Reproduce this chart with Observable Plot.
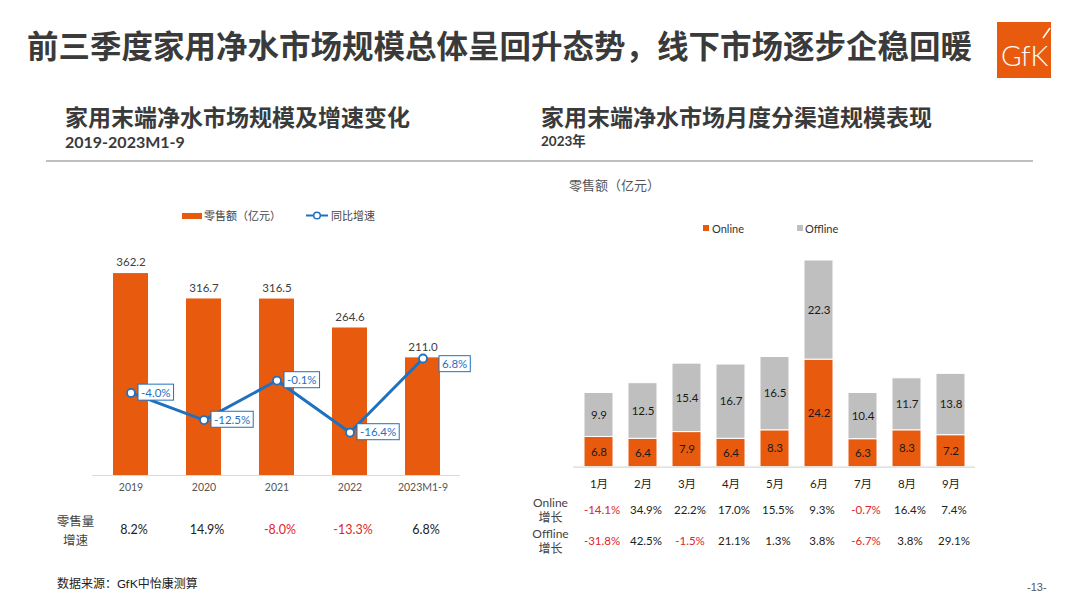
<!DOCTYPE html>
<html><head><meta charset="utf-8">
<script src="https://cdn.jsdelivr.net/npm/d3@7"></script>
<script src="https://cdn.jsdelivr.net/npm/@observablehq/plot@0.6"></script>
<style>
body{margin:0;width:1080px;height:607px;position:relative;background:#fff;font-family:Lato,"Noto Sans CJK SC",sans-serif;overflow:hidden}
.abs{position:absolute;white-space:nowrap;line-height:1}
</style></head><body>
<div class="abs" style="left:27px;top:29px;font-size:31.5px;font-weight:700;color:#3a3a3a;font-family:'Noto Sans CJK SC',sans-serif">前三季度家用净水市场规模总体呈回升态势，线下市场逐步企稳回暖</div>
<div class="abs" style="left:997px;top:22px;width:54px;height:56px;background:#e85b0e">
  <span class="abs" style="left:4px;top:19px;font-size:28px;font-weight:300;color:#fff;font-family:Lato">GfK</span>
  <svg class="abs" style="left:0;top:0" width="54" height="56"><line x1="46" y1="16" x2="53" y2="6" stroke="#fff" stroke-width="1.5"/></svg>
</div>
<div class="abs" style="left:65px;top:105px;font-size:23px;font-weight:700;color:#3a3a3a;font-family:'Noto Sans CJK SC',sans-serif">家用末端净水市场规模及增速变化</div>
<div class="abs" style="left:65px;top:134px;font-size:16px;font-weight:700;color:#3a3a3a">2019-2023M1-9</div>
<div class="abs" style="left:541px;top:105px;font-size:23px;font-weight:700;color:#3a3a3a;font-family:'Noto Sans CJK SC',sans-serif">家用末端净水市场月度分渠道规模表现</div>
<div class="abs" style="left:541px;top:134.5px;font-size:13.5px;font-weight:700;color:#3a3a3a">2023年</div>
<div class="abs" style="left:46px;top:160px;width:987px;height:1.5px;background:#bfbfbf"></div>

<div class="abs" style="left:182px;top:212.5px;width:20px;height:6px;background:#e85b0e"></div>
<div class="abs" style="left:204px;top:210px;font-size:11px;color:#444">零售额（亿元）</div>
<svg class="abs" style="left:306px;top:210px" width="24" height="11"><line x1="0" y1="5.5" x2="22" y2="5.5" stroke="#1f71bf" stroke-width="2"/><circle cx="11" cy="5.5" r="3.3" fill="#fff" stroke="#1f71bf" stroke-width="1.5"/></svg>
<div class="abs" style="left:331px;top:210px;font-size:11px;color:#444">同比增速</div>

<div class="abs" style="left:569px;top:179px;font-size:13px;color:#555">零售额（亿元）</div>
<div class="abs" style="left:703px;top:225px;width:6px;height:6px;background:#e85b0e"></div>
<div class="abs" style="left:712px;top:222.5px;font-size:11px;color:#333">Online</div>
<div class="abs" style="left:797px;top:225px;width:6px;height:6px;background:#bfbfbf"></div>
<div class="abs" style="left:805px;top:222.5px;font-size:11px;color:#333">Offline</div>

<div class="abs" style="left:57px;top:578px;font-size:12px;color:#222">数据来源：GfK中怡康测算</div>
<div class="abs" style="left:1027px;top:582px;font-size:11px;color:#555;font-family:'Liberation Sans',Arial">-13-</div>

<script>
// ---- data ----
const years = ["2019", "2020", "2021", "2022", "2023M1-9"];
const sales = [362.2, 316.7, 316.5, 264.6, 211.0];
const yoy = [-4.0, -12.5, -0.1, -16.4, 6.8];
const volumeGrowth = [8.2, 14.9, -8.0, -13.3, 6.8];

const months = ["1月", "2月", "3月", "4月", "5月", "6月", "7月", "8月", "9月"];
const online = [6.8, 6.4, 7.9, 6.4, 8.3, 24.2, 6.3, 8.3, 7.2];
const offline = [9.9, 12.5, 15.4, 16.7, 16.5, 22.3, 10.4, 11.7, 13.8];
const onlineGrowth = [-14.1, 34.9, 22.2, 17.0, 15.5, 9.3, -0.7, 16.4, 7.4];
const offlineGrowth = [-31.8, 42.5, -1.5, 21.1, 1.3, 3.8, -6.7, 3.8, 29.1];

const ORANGE = "#e85b0e", GRAY = "#bfbfbf", BLUE = "#1f71bf", RED = "#e0262a", DARK = "#222";
const FONT = "Lato, 'Noto Sans CJK SC', sans-serif";
const pct = v => v.toFixed(1) + "%";

function place(svg, left, top) {
  svg.style.position = "absolute";
  svg.style.left = left + "px";
  svg.style.top = top + "px";
  svg.style.overflow = "visible";
  svg.style.background = "transparent";
  document.body.appendChild(svg);
  return svg;
}

// ---- left chart ----
const leftData = years.map((y, i) => ({year: y, sales: sales[i], yoy: yoy[i], vol: volumeGrowth[i]}));
const L = {width: 540, height: 310, marginLeft: 92, marginRight: 80, marginTop: 12, marginBottom: 75};
const xLeft = {domain: years, type: "band", paddingInner: 0.5245, paddingOuter: 0.262};

const barPlot = Plot.plot({
  ...L,
  style: {fontFamily: FONT, fontSize: "10.5px", color: "#555"},
  x: {...xLeft, label: null, tickSize: 0, tickPadding: 8},
  y: {domain: [0, 400], axis: null},
  marks: [
    Plot.barY(leftData, {x: "year", y: "sales", fill: ORANGE}),
    Plot.ruleY([0], {stroke: "#d9d9d9", strokeWidth: 1.2}),
    Plot.text(leftData, {x: "year", y: "sales", text: d => d.sales.toFixed(1), dy: -11, fontSize: 11.5, fill: "#404040"}),
    Plot.text(leftData, {x: "year", frameAnchor: "bottom", lineAnchor: "middle", dx: 3, dy: 54, text: d => pct(d.vol), fontSize: 12.5, fill: DARK, filter: d => d.vol >= 0}),
    Plot.text(leftData, {x: "year", frameAnchor: "bottom", lineAnchor: "middle", dx: 3, dy: 54, text: d => pct(d.vol), fontSize: 12.5, fill: RED, filter: d => d.vol < 0}),
    Plot.text(["零售量\n增速"], {frameAnchor: "bottom-left", textAnchor: "middle", lineAnchor: "middle", dx: -17, dy: 54, text: d => d, fontSize: 12.5, fill: "#444", lineHeight: 1.55})
  ]
});
place(barPlot, 0, 240);

const linePlot = Plot.plot({
  ...L,
  style: {fontFamily: FONT},
  x: {...xLeft, axis: null},
  y: {domain: [-29.87, 40.03], axis: null},
  marks: [
    Plot.line(leftData, {x: "year", y: "yoy", stroke: BLUE, strokeWidth: 3}),
    Plot.dot(leftData, {x: "year", y: "yoy", r: 4, fill: "white", stroke: BLUE, strokeWidth: 1.8}),
    Plot.text(leftData, {x: "year", y: "yoy", text: d => pct(d.yoy), textAnchor: "start", dx: 10, fill: BLUE, fontSize: 11.5, filter: d => d.year !== "2023M1-9"}),
    Plot.text(leftData, {x: "year", y: "yoy", text: d => pct(d.yoy), textAnchor: "start", dx: 19, dy: 6, fill: BLUE, fontSize: 11.5, filter: d => d.year === "2023M1-9"})
  ]
});
place(linePlot, 0, 240);
// white label boxes with blue border behind growth labels
linePlot.querySelectorAll('g[aria-label="text"] text').forEach(t => {
  const b = t.getBBox();
  const r = document.createElementNS("http://www.w3.org/2000/svg", "rect");
  r.setAttribute("x", b.x - 3); r.setAttribute("y", b.y - 1.5);
  r.setAttribute("width", b.width + 6); r.setAttribute("height", b.height + 3);
  r.setAttribute("fill", "white"); r.setAttribute("stroke", BLUE); r.setAttribute("stroke-width", "1");
  if (t.getAttribute("transform")) r.setAttribute("transform", t.getAttribute("transform"));
  t.parentNode.insertBefore(r, t);
});

// ---- right chart ----
const rightLong = months.flatMap((m, i) => [
  {month: m, channel: "Online", value: online[i]},
  {month: m, channel: "Offline", value: offline[i]}
]);
const rightRows = months.map((m, i) => ({month: m, on: onlineGrowth[i], off: offlineGrowth[i]}));

const rightPlot = Plot.plot({
  width: 540, height: 320, marginLeft: 33, marginRight: 105, marginTop: 4.45, marginBottom: 93.3,
  style: {fontFamily: FONT, fontSize: "11.5px", color: "#222"},
  x: {domain: months, paddingInner: 0.35, paddingOuter: 0.17, label: null, tickSize: 0, tickPadding: 13},
  y: {domain: [0, 50], axis: null},
  color: {domain: ["Online", "Offline"], range: [ORANGE, GRAY]},
  marks: [
    Plot.barY(rightLong, {x: "month", y: "value", fill: "channel", stroke: "white", strokeWidth: 1}),
    Plot.ruleY([0], {stroke: "#d9d9d9", strokeWidth: 1.2}),
    Plot.text(rightLong, Plot.stackY({x: "month", y: "value", text: d => d.value.toFixed(1), fill: "#1a1a1a", fontSize: 11.5})),
    Plot.text(rightRows, {x: "month", frameAnchor: "bottom", lineAnchor: "middle", dx: 3, dy: 43.3, text: d => pct(d.on), fontSize: 11.5, fill: DARK, filter: d => d.on >= 0}),
    Plot.text(rightRows, {x: "month", frameAnchor: "bottom", lineAnchor: "middle", dx: 3, dy: 43.3, text: d => pct(d.on), fontSize: 11.5, fill: RED, filter: d => d.on < 0}),
    Plot.text(rightRows, {x: "month", frameAnchor: "bottom", lineAnchor: "middle", dx: 3, dy: 74.3, text: d => pct(d.off), fontSize: 11.5, fill: DARK, filter: d => d.off >= 0}),
    Plot.text(rightRows, {x: "month", frameAnchor: "bottom", lineAnchor: "middle", dx: 3, dy: 74.3, text: d => pct(d.off), fontSize: 11.5, fill: RED, filter: d => d.off < 0}),
    Plot.text(["Online\n增长"], {frameAnchor: "bottom-left", textAnchor: "middle", lineAnchor: "middle", dx: -23, dy: 42.8, text: d => d, fontSize: 12, fill: "#444", lineHeight: 1.25}),
    Plot.text(["Offline\n增长"], {frameAnchor: "bottom-left", textAnchor: "middle", lineAnchor: "middle", dx: -23, dy: 73.8, text: d => d, fontSize: 12, fill: "#444", lineHeight: 1.25})
  ]
});
place(rightPlot, 540, 240);
</script>
</body></html>
